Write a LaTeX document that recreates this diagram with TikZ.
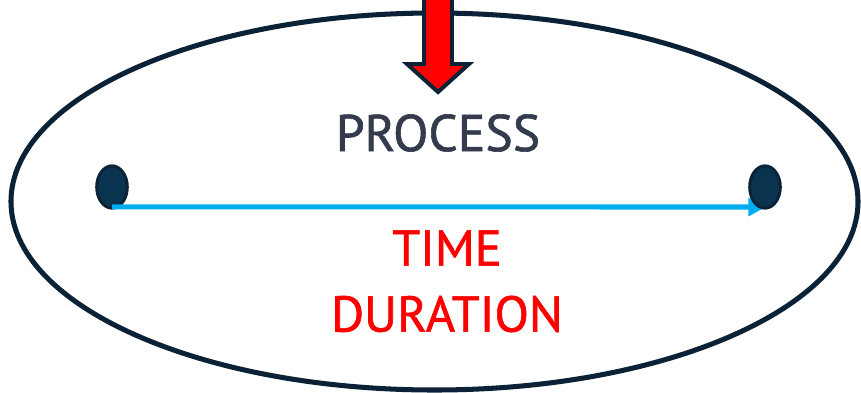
\documentclass[tikz,border=0pt]{standalone}
\usepackage{fontspec}
\setmainfont{PT Sans}
\newfontfamily\labelfont{PT Sans}[FakeBold=1.2]
\usepackage{xcolor}
\usetikzlibrary{arrows.meta,positioning,shapes.geometric}

\definecolor{navy}{HTML}{0B2236}
\definecolor{dotfill}{HTML}{0A3350}
\definecolor{slate}{HTML}{343B4C}
\definecolor{timeblue}{HTML}{00AEEF}

\begin{document}
\begin{tikzpicture}[
  x=0.03cm, y=-0.03cm,
  frame/.style={draw=navy, line width=4.3pt, ellipse, inner sep=0pt,
    minimum width=25.41cm, minimum height=11.31cm},
  dot/.style={draw=navy, fill=dotfill, line width=2.5pt, ellipse,
    inner sep=0pt, minimum width=0.92cm, minimum height=1.27cm},
  title/.style={font=\labelfont\fontsize{44}{48}\selectfont, text=slate},
  redtext/.style={font=\labelfont\fontsize{43}{48}\selectfont, text=red},
  timearr/.style={-{Triangle[length=15pt, width=15pt]}, line width=4.3pt,
    draw=timeblue},
  cue/.style={fill=red, draw=navy, line width=3.4pt, miter limit=10},
]
\useasboundingbox (0,0) rectangle (861,393);

\node[frame] (frame) at (434.5,201.5) {};

% input arrow from above
\draw[cue] (424,-10) -- (424,64) -- (407,64) -- (438,92)
  -- (469,64) -- (452,64) -- (452,-10) -- cycle;

\node[title] (process) at (438,133) {PROCESS};

\node[dot] (start) at (112,187) {};
\coordinate (stop) at (766,207);
\draw[timearr] ([yshift=-17pt]start.center) -- (stop);
\node[dot] (end) at (765,187) {};

\node[redtext] (time) at (447,248) {TIME};
\node[redtext] (duration) at (447,314) {DURATION};
\end{tikzpicture}
\end{document}
